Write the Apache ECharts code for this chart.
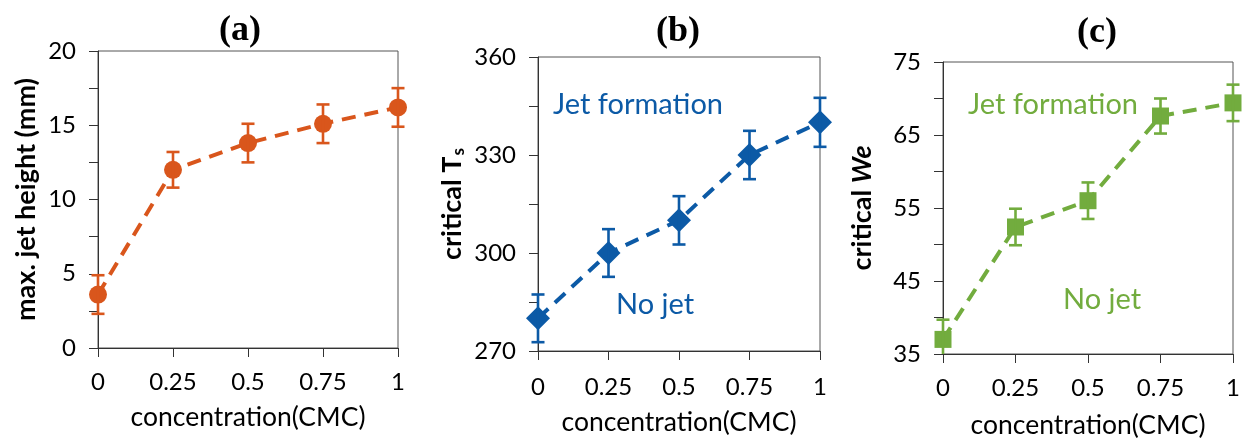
<!DOCTYPE html>
<html><head><meta charset="utf-8">
<script src="https://cdn.jsdelivr.net/npm/echarts@6/dist/echarts.min.js"></script>
<style>html,body{margin:0;padding:0;background:#fff}#c{width:1246px;height:444px}</style>
</head><body><div id="c"></div>
<script>
// ---- data ----
const concentration = [0, 0.25, 0.5, 0.75, 1];
const xTickLabels = ['0', '0.25', '0.5', '0.75', '1'];
const jetHeight = [3.6, 12.0, 13.8, 15.1, 16.2];
const jetHeightErr = [1.3, 1.2, 1.3, 1.3, 1.3];
const criticalTs = [280, 300, 310, 330, 340];
const criticalTsErr = [7.3, 7.3, 7.4, 7.4, 7.5];
const criticalWe = [37.0, 52.4, 56.0, 67.6, 69.4];
const criticalWeErr = [2.7, 2.5, 2.5, 2.4, 2.5];
const yLabelsA = [0, 5, 10, 15, 20];
const yLabelsB = [270, 300, 330, 360];
const yLabelsC = [35, 45, 55, 65, 75];

const COL_A = '#D9561C', COL_B = '#0C5AA6', COL_C = '#72AC3E';
const FONT = 'Lato';
const chart = echarts.init(document.getElementById('c'), null, {renderer: 'canvas'});

function xAxis(i, gap, margin) {
  return {
    type: 'value', gridIndex: i, min: 0, max: 1, interval: 0.25,
    name: 'concentration(CMC)', nameLocation: 'middle', nameGap: gap,
    nameTextStyle: {fontFamily: FONT, fontSize: 26.5, color: '#000'},
    axisLine: {show: true, lineStyle: {color: '#333', width: 1}},
    axisTick: {show: true, inside: false, length: 9, lineStyle: {color: '#333'}},
    axisLabel: {fontFamily: FONT, fontSize: 24, color: '#000', margin: margin,
      formatter: v => { const k = concentration.indexOf(v); return k >= 0 ? xTickLabels[k] : ''; }},
    splitLine: {show: false}
  };
}
function yAxis(i, labels, step, name, gap, rich) {
  return {
    type: 'value', gridIndex: i, min: labels[0], max: labels[labels.length - 1], interval: step,
    name: name, nameLocation: 'middle', nameGap: gap, nameRotate: 90,
    nameTextStyle: Object.assign({fontFamily: FONT, fontSize: 27, fontWeight: 'bold', color: '#000'}, rich ? {rich: rich} : {}),
    axisLine: {show: true, lineStyle: {color: '#333', width: 1}},
    axisTick: {show: true, inside: false, length: 9, lineStyle: {color: '#333'}},
    axisLabel: {fontFamily: FONT, fontSize: 24, color: '#000', margin: 22,
      formatter: v => labels.indexOf(v) >= 0 ? String(v) : ''},
    splitLine: {show: false}
  };
}
function errRender(color, ymin) {
  return function (params, api) {
    const x = api.value(0), y = api.value(1), e = api.value(2);
    const hi = y + e; let lo = y - e; let lowCap = true;
    if (lo < ymin) { lo = ymin; lowCap = false; }
    const pt = api.coord([x, hi]), pb = api.coord([x, lo]);
    const w = 6.5;
    const st = {stroke: color, lineWidth: 2.6};
    const ch = [
      {type: 'line', shape: {x1: pt[0], y1: pt[1], x2: pb[0], y2: pb[1]}, style: st},
      {type: 'line', shape: {x1: pt[0] - w, y1: pt[1], x2: pt[0] + w, y2: pt[1]}, style: st}
    ];
    if (lowCap) ch.push({type: 'line', shape: {x1: pb[0] - w, y1: pb[1], x2: pb[0] + w, y2: pb[1]}, style: st});
    return {type: 'group', children: ch};
  };
}
function pairs(ys) { return concentration.map((x, i) => [x, ys[i]]); }
function errTriples(ys, es) { return concentration.map((x, i) => [x, ys[i], es[i]]); }
function lineSeries(i, ys, color, symbol, size) {
  return {type: 'line', xAxisIndex: i, yAxisIndex: i, data: pairs(ys), symbol: symbol, symbolSize: size,
    showAllSymbol: true, lineStyle: {color: color, width: 4, type: [14, 9]},
    itemStyle: {color: color}, z: 3, animation: false};
}
function errSeries(i, ys, es, color, ymin) {
  return {type: 'custom', xAxisIndex: i, yAxisIndex: i, data: errTriples(ys, es),
    renderItem: errRender(color, ymin), encode: {x: 0, y: 1}, z: 4, animation: false};
}
const gridStyle = {show: true, borderColor: '#555', borderWidth: 1, backgroundColor: 'transparent'};
const titleFont = 'bold 36px "Liberation Serif"';
const noteFont = '29px Lato';

chart.setOption({
  animation: false,
  grid: [
    Object.assign({left: 98, right: 848, top: 51, bottom: 96}, gridStyle),
    Object.assign({left: 538, right: 426, top: 57, bottom: 93}, gridStyle),
    Object.assign({left: 943, right: 13, top: 62, bottom: 86}, gridStyle)
  ],
  xAxis: [xAxis(0, 56, 22), xAxis(1, 58, 24), xAxis(2, 58, 22)],
  yAxis: [
    yAxis(0, yLabelsA, 2.5, 'max. jet height (mm)', 58),
    yAxis(1, yLabelsB, 15, '{a|critical T}{s|s}', 71,
      {a: {fontFamily: FONT, fontSize: 27, fontWeight: 'bold', color: '#000'},
       s: {fontFamily: FONT, fontSize: 17, fontWeight: 'bold', color: '#000', padding: [13, 0, 0, 1]}}),
    yAxis(2, yLabelsC, 5, '{a|critical }{b|We}', 67,
      {a: {fontFamily: FONT, fontSize: 27, fontWeight: 'bold', color: '#000'},
       b: {fontFamily: FONT, fontSize: 27, fontWeight: 'bold', fontStyle: 'italic', color: '#000'}})
  ],
  series: [
    lineSeries(0, jetHeight, COL_A, 'circle', 18),
    errSeries(0, jetHeight, jetHeightErr, COL_A, yLabelsA[0]),
    lineSeries(1, criticalTs, COL_B, 'diamond', 24),
    errSeries(1, criticalTs, criticalTsErr, COL_B, yLabelsB[0]),
    lineSeries(2, criticalWe, COL_C, 'rect', 17),
    errSeries(2, criticalWe, criticalWeErr, COL_C, yLabelsC[0])
  ],
  graphic: [
    {type: 'text', x: 240, y: 31, style: {text: '(a)', font: titleFont, fill: '#000', textAlign: 'center', textVerticalAlign: 'middle'}},
    {type: 'text', x: 678, y: 32, style: {text: '(b)', font: titleFont, fill: '#000', textAlign: 'center', textVerticalAlign: 'middle'}},
    {type: 'text', x: 1097, y: 33, style: {text: '(c)', font: titleFont, fill: '#000', textAlign: 'center', textVerticalAlign: 'middle'}},
    {type: 'text', x: 638, y: 105, style: {text: 'Jet formation', font: noteFont, fill: COL_B, textAlign: 'center', textVerticalAlign: 'middle'}},
    {type: 'text', x: 655, y: 305, style: {text: 'No jet', font: noteFont, fill: COL_B, textAlign: 'center', textVerticalAlign: 'middle'}},
    {type: 'text', x: 1053, y: 105, style: {text: 'Jet formation', font: noteFont, fill: COL_C, textAlign: 'center', textVerticalAlign: 'middle'}},
    {type: 'text', x: 1102, y: 300, style: {text: 'No jet', font: noteFont, fill: COL_C, textAlign: 'center', textVerticalAlign: 'middle'}}
  ]
});
</script></body></html>
